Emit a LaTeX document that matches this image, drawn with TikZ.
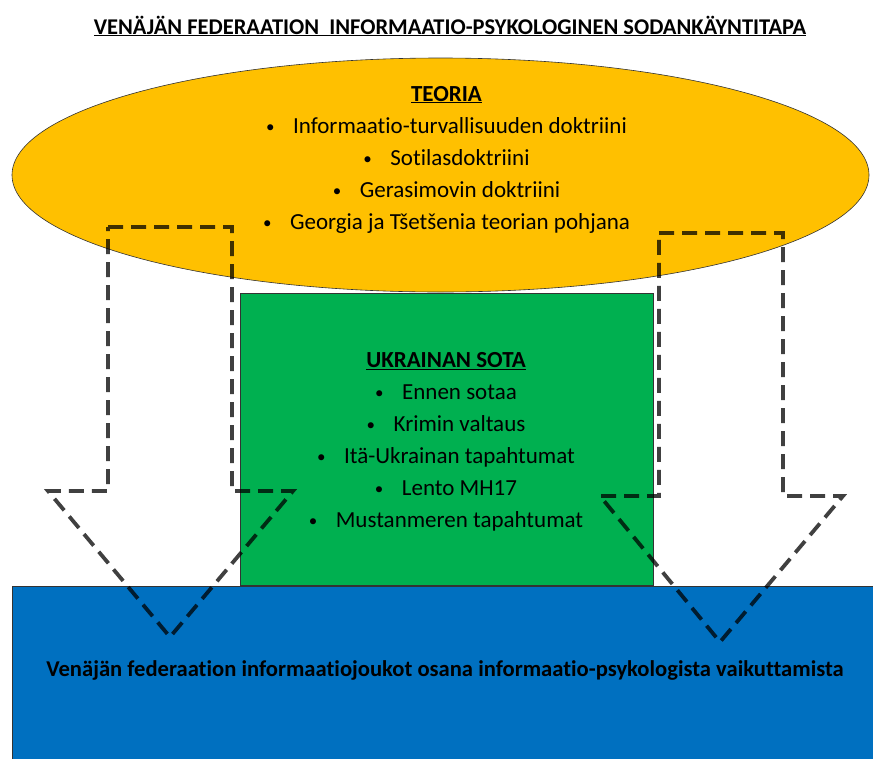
\documentclass[tikz,border=0pt]{standalone}
\usepackage{fontspec}
\setmainfont{Carlito}[Ligatures=NoCommon]
\usetikzlibrary{shapes.geometric}
\definecolor{oyellow}{HTML}{FFC000}
\definecolor{ogreen}{HTML}{00B050}
\definecolor{oblue}{HTML}{0070C0}
\newcommand\mybullet{\makebox[27pt][l]{{\fontsize{17}{17}\selectfont\raisebox{1pt}{•}}}}
\begin{document}
\begin{tikzpicture}[x=1pt,y=-1pt,
  arrowline/.style={draw=black, draw opacity=0.75, line width=3.8pt, dash pattern=on 15pt off 8pt},
  bodyline/.style={font=\fontsize{23}{28}\selectfont, anchor=base, inner sep=0pt},
  panel/.style={draw=black!80, line width=0.6pt, inner sep=0pt}]
\clip (0,0) rectangle (873,758);
\fill[white] (0,0) rectangle (873,758);
% shapes
\node[panel, ellipse, fill=oyellow, minimum width=857pt, minimum height=234pt] (teoria) at (440.5,175) {};
\node[panel, fill=ogreen, minimum width=413pt, minimum height=292pt, anchor=north west] (sota) at (240,293) {};
\node[panel, fill=oblue, minimum width=880pt, minimum height=190pt, anchor=north west] (joukot) at (12,586) {};
% dashed arrows
\draw[arrowline] (108,227) -- (232,227) -- (232,491) -- (293,491) -- (170,637) -- (48,491) -- (108,491) -- cycle;
\draw[arrowline] (659,233) -- (783,233) -- (783,496) -- (843,496) -- (720,642) -- (600,496) -- (659,496) -- cycle;
% title
\node[inner sep=0pt, anchor=base] (title) at (450,34) {\fontsize{22.5}{26}\selectfont\bfseries\underline{VENÄJÄN FEDERAATION\ \ INFORMAATIO-PSYKOLOGINEN SODANKÄYNTITAPA}};
% theory texts
\node[bodyline] (teoriah) at (446.5,101) {\textbf{\underline{TEORIA}}};
\node[bodyline] (teoria1) at (446.5,133) {\mybullet Informaatio-turvallisuuden doktriini};
\node[bodyline] (teoria2) at (446.5,165) {\mybullet Sotilasdoktriini};
\node[bodyline] (teoria3) at (446.5,197) {\mybullet Gerasimovin doktriini};
\node[bodyline] (teoria4) at (446.5,229) {\mybullet Georgia ja Tšetšenia teorian pohjana};
% war texts
\node[bodyline] (sotah) at (446,367.5) {\textbf{\underline{UKRAINAN SOTA}}};
\node[bodyline] (sota1) at (446,399.5) {\mybullet Ennen sotaa};
\node[bodyline] (sota2) at (446,431) {\mybullet Krimin valtaus};
\node[bodyline] (sota3) at (446,463) {\mybullet Itä-Ukrainan tapahtumat};
\node[bodyline] (sota4) at (446,495) {\mybullet Lento MH17};
\node[bodyline] (sota5) at (446,527) {\mybullet Mustanmeren tapahtumat};
% bottom text
\node[inner sep=0pt, anchor=base] (joukottxt) at (445,676) {\fontsize{22.6}{26}\selectfont\bfseries Venäjän federaation informaatiojoukot osana informaatio-psykologista vaikuttamista};
\end{tikzpicture}
\end{document}
